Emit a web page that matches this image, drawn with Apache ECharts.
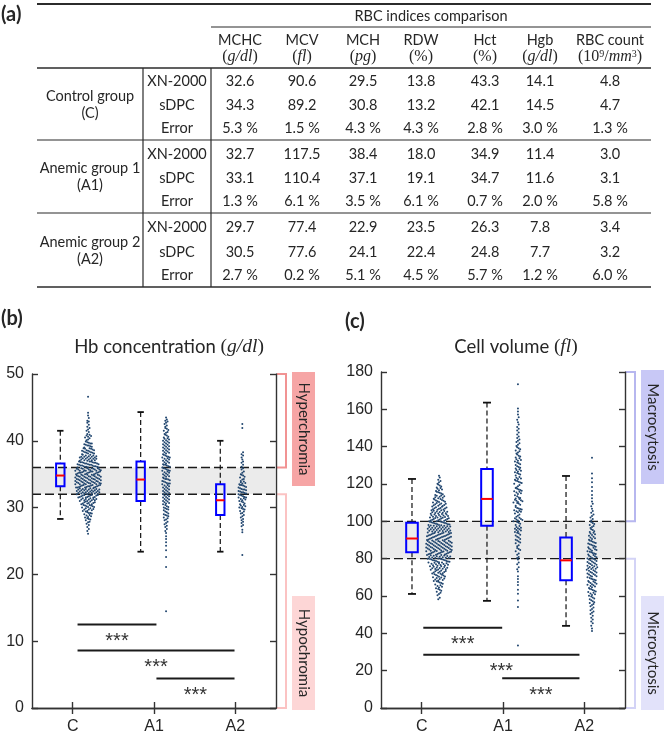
<!DOCTYPE html>
<html>
<head>
<meta charset="utf-8">
<script src="https://cdn.jsdelivr.net/npm/echarts@6.0.0/dist/echarts.min.js"></script>
<style>
  html, body { margin: 0; padding: 0; background: #fff; }
  #main { width: 666px; height: 735px; }
</style>
</head>
<body>
<div id="main"></div>
<script>
// ---------- table (a) ----------
const metricNames = ['MCHC', 'MCV', 'MCH', 'RDW', 'Hct', 'Hgb', 'RBC count']
const metricUnits = [
  '{p|(}{i|g/dl}{p|)}', '{p|(}{i|fl}{p|)}', '{p|(}{i|pg}{p|)}', '{p|(%)}', '{p|(%)}',
  '{p|(}{i|g/dl}{p|)}', '{p|(10}{s|9}{p|/}{i|mm}{s|3}{p|)}'
]
const groupNames = [['Control group', '(C)'], ['Anemic group 1', '(A1)'], ['Anemic group 2', '(A2)']]
const methodNames = ['XN-2000', 'sDPC', 'Error']
const controlValues = [
  [32.6, 90.6, 29.5, 13.8, 43.3, 14.1, 4.8],
  [34.3, 89.2, 30.8, 13.2, 42.1, 14.5, 4.7],
  [5.3, 1.5, 4.3, 4.3, 2.8, 3.0, 1.3]
]
const anemic1Values = [
  [32.7, 117.5, 38.4, 18.0, 34.9, 11.4, 3.0],
  [33.1, 110.4, 37.1, 19.1, 34.7, 11.6, 3.1],
  [1.3, 6.1, 3.5, 6.1, 0.7, 2.0, 5.8]
]
const anemic2Values = [
  [29.7, 77.4, 22.9, 23.5, 26.3, 7.8, 3.4],
  [30.5, 77.6, 24.1, 22.4, 24.8, 7.7, 3.2],
  [2.7, 0.2, 5.1, 4.5, 5.7, 1.2, 6.0]
]

// ---------- charts (b) and (c) ----------
const groupLabels = ['C', 'A1', 'A2']
const groupPos = [1, 2, 3]
// [lower whisker, q1, median, q3, upper whisker]
const hbBoxStats = [[28.3, 33.2, 34.8, 36.6, 41.5], [23.4, 31.0, 34.2, 36.9, 44.3], [23.4, 28.9, 31.1, 33.5, 40.0]]
const mcvBoxStats = [[61.1, 83.4, 90.8, 99.3, 122.7], [57.4, 97.7, 112.0, 128.0, 163.6], [44.0, 68.5, 79.1, 91.3, 124.3]]
const hbNormal = [32, 36]
const mcvNormal = [80, 100]
// [from, to, y]
const hbSig = [[1.06, 2.03, 12.5], [1.06, 2.99, 8.6], [2.03, 2.99, 4.4]]
const mcvSig = [[1.02, 1.99, 43.0], [1.02, 2.94, 28.5], [1.99, 2.94, 15.9]]
const hbZones = [[50, 36], [32, 0]]
const hbZoneNames = ['Hyperchromia', 'Hypochromia']
const mcvZones = [[180, 100], [80, 0]]
const mcvZoneNames = ['Macrocytosis', 'Microcytosis']

const hbC = [46.6, 44.2, 43.0, 43.4, 43.8, 42.1, 42.4, 42.7, 42.9, 41.0, 41.3, 41.5, 41.7, 41.9,
  40.1, 40.2, 40.4, 40.5, 40.6, 40.7, 40.8, 40.9,
  39.0, 39.1, 39.2, 39.3, 39.3, 39.4, 39.5, 39.6, 39.6, 39.7, 39.8, 39.9,
  38.0, 38.1, 38.1, 38.2, 38.2, 38.3, 38.3, 38.4, 38.4, 38.5, 38.5, 38.6, 38.6, 38.7, 38.8, 38.8, 38.9, 38.9,
  37.0, 37.0, 37.1, 37.1, 37.1, 37.2, 37.2, 37.3, 37.3, 37.3, 37.4, 37.4, 37.5, 37.5, 37.5, 37.6, 37.6, 37.6, 37.7, 37.7, 37.8, 37.8, 37.9, 37.9,
  36.0, 36.0, 36.0, 36.1, 36.1, 36.1, 36.2, 36.2, 36.2, 36.3, 36.3, 36.3, 36.4, 36.4, 36.4, 36.5, 36.5, 36.5, 36.6, 36.6, 36.6, 36.7, 36.7, 36.7, 36.8, 36.8, 36.8, 36.9, 36.9, 36.9,
  35.0, 35.0, 35.0, 35.1, 35.1, 35.1, 35.2, 35.2, 35.2, 35.2, 35.3, 35.3, 35.3, 35.4, 35.4, 35.4, 35.4, 35.5, 35.5, 35.5, 35.5, 35.6, 35.6, 35.6, 35.7, 35.7, 35.7, 35.7, 35.8, 35.8, 35.8, 35.9, 35.9, 35.9, 35.9,
  34.0, 34.0, 34.0, 34.1, 34.1, 34.1, 34.1, 34.2, 34.2, 34.2, 34.3, 34.3, 34.3, 34.3, 34.4, 34.4, 34.4, 34.4, 34.5, 34.5, 34.5, 34.6, 34.6, 34.6, 34.6, 34.7, 34.7, 34.7, 34.8, 34.8, 34.8, 34.8, 34.9, 34.9, 34.9, 34.9,
  33.0, 33.0, 33.0, 33.0, 33.1, 33.1, 33.1, 33.2, 33.2, 33.2, 33.2, 33.3, 33.3, 33.3, 33.4, 33.4, 33.4, 33.5, 33.5, 33.5, 33.5, 33.6, 33.6, 33.6, 33.7, 33.7, 33.7, 33.7, 33.8, 33.8, 33.8, 33.8, 33.9, 33.9, 33.9,
  32.0, 32.0, 32.0, 32.1, 32.1, 32.1, 32.2, 32.2, 32.2, 32.3, 32.3, 32.3, 32.3, 32.4, 32.4, 32.4, 32.5, 32.5, 32.5, 32.6, 32.6, 32.6, 32.6, 32.7, 32.7, 32.7, 32.8, 32.8, 32.8, 32.9, 32.9, 32.9,
  31.0, 31.0, 31.1, 31.1, 31.1, 31.2, 31.2, 31.3, 31.3, 31.3, 31.4, 31.4, 31.5, 31.5, 31.5, 31.6, 31.6, 31.6, 31.7, 31.7, 31.8, 31.8, 31.8, 31.9, 31.9, 31.9,
  30.0, 30.1, 30.1, 30.2, 30.2, 30.3, 30.3, 30.4, 30.4, 30.5, 30.5, 30.6, 30.6, 30.7, 30.7, 30.8, 30.8, 30.9, 30.9,
  29.0, 29.1, 29.2, 29.2, 29.3, 29.4, 29.5, 29.5, 29.6, 29.7, 29.7, 29.8, 29.9, 29.9,
  28.1, 28.2, 28.3, 28.4, 28.5, 28.6, 28.7, 28.8, 28.9, 27.1, 27.4, 27.6, 27.8, 27.9, 26.1, 26.5, 26.8]

const hbA1 = [43.0, 43.2, 43.5, 42.1, 42.3, 42.5, 42.7, 42.9, 41.0, 41.2, 41.3, 41.5, 41.6, 41.8, 41.9,
  40.0, 40.1, 40.2, 40.3, 40.4, 40.5, 40.6, 40.8, 40.9,
  39.0, 39.1, 39.2, 39.3, 39.4, 39.5, 39.6, 39.7, 39.8, 39.9,
  38.0, 38.1, 38.2, 38.3, 38.4, 38.5, 38.6, 38.7, 38.8, 38.9,
  37.0, 37.1, 37.2, 37.3, 37.4, 37.5, 37.6, 37.7, 37.8, 37.9, 37.5,
  36.0, 36.1, 36.2, 36.3, 36.4, 36.5, 36.6, 36.7, 36.8, 36.9, 36.4,
  35.0, 35.1, 35.2, 35.3, 35.4, 35.5, 35.6, 35.7, 35.8, 35.9, 35.5,
  34.0, 34.1, 34.2, 34.3, 34.4, 34.5, 34.6, 34.7, 34.8, 34.9, 34.3,
  33.0, 33.1, 33.2, 33.3, 33.4, 33.5, 33.6, 33.7, 33.8, 33.9, 33.6,
  32.0, 32.1, 32.2, 32.3, 32.4, 32.5, 32.6, 32.7, 32.8, 32.9,
  31.0, 31.1, 31.2, 31.3, 31.4, 31.5, 31.6, 31.7, 31.8, 31.9,
  30.0, 30.1, 30.2, 30.4, 30.5, 30.6, 30.7, 30.8, 30.9,
  29.0, 29.1, 29.3, 29.4, 29.6, 29.7, 29.8, 29.9,
  28.1, 28.2, 28.4, 28.5, 28.7, 28.8, 28.9, 27.1, 27.3, 27.5, 27.7, 27.9,
  26.2, 26.5, 26.8, 25.3, 25.7, 24.3, 24.8, 23.6, 22.6, 21.1, 14.5]

const hbA2 = [42.5, 41.9, 38.3, 38.0, 37.2, 37.5, 37.8, 36.1, 36.4, 36.7, 36.9,
  35.0, 35.2, 35.4, 35.7, 35.9, 34.0, 34.2, 34.3, 34.5, 34.6, 34.8, 34.9,
  33.0, 33.1, 33.2, 33.3, 33.4, 33.4, 33.5, 33.6, 33.7, 33.8, 33.9,
  32.0, 32.1, 32.2, 32.3, 32.3, 32.4, 32.5, 32.6, 32.7, 32.7, 32.8, 32.9,
  31.0, 31.1, 31.2, 31.3, 31.4, 31.5, 31.5, 31.6, 31.7, 31.8, 31.9,
  30.0, 30.1, 30.2, 30.3, 30.4, 30.5, 30.6, 30.8, 30.9,
  29.1, 29.2, 29.4, 29.5, 29.7, 29.8, 29.9, 28.1, 28.3, 28.5, 28.7, 28.9,
  27.2, 27.4, 27.7, 27.9, 26.3, 26.7, 22.9]

const mcvC = [124.4, 122.3, 123.5, 120.2, 120.9, 121.6, 118.1, 118.6, 119.2, 119.7,
  116.2, 116.6, 117.0, 117.5, 117.9, 114.1, 114.5, 114.9, 115.3, 115.6, 115.9,
  112.1, 112.3, 112.6, 112.9, 113.2, 113.4, 113.7, 113.9,
  110.1, 110.3, 110.5, 110.8, 111.0, 111.2, 111.4, 111.7, 111.9,
  108.0, 108.2, 108.4, 108.6, 108.8, 109.0, 109.2, 109.4, 109.6, 109.8,
  106.0, 106.2, 106.3, 106.5, 106.7, 106.9, 107.0, 107.2, 107.4, 107.6, 107.8,
  104.0, 104.2, 104.3, 104.5, 104.6, 104.8, 105.0, 105.2, 105.3, 105.5, 105.7, 105.9,
  102.0, 102.1, 102.3, 102.4, 102.6, 102.8, 102.9, 103.1, 103.2, 103.4, 103.6, 103.7, 103.9,
  100.0, 100.1, 100.3, 100.4, 100.6, 100.7, 100.9, 101.0, 101.2, 101.3, 101.5, 101.6, 101.8, 101.9,
  98.0, 98.1, 98.3, 98.4, 98.5, 98.7, 98.8, 99.0, 99.1, 99.2, 99.4, 99.5, 99.7, 99.8, 99.9,
  96.0, 96.1, 96.2, 96.4, 96.5, 96.6, 96.8, 96.9, 97.0, 97.2, 97.3, 97.4, 97.6, 97.7, 97.8, 97.9,
  94.0, 94.1, 94.3, 94.4, 94.5, 94.6, 94.8, 94.9, 95.0, 95.1, 95.3, 95.4, 95.5, 95.7, 95.8, 95.9,
  92.0, 92.1, 92.2, 92.4, 92.5, 92.6, 92.7, 92.9, 93.0, 93.1, 93.2, 93.4, 93.5, 93.6, 93.7, 93.8, 93.9,
  90.0, 90.1, 90.2, 90.3, 90.5, 90.6, 90.7, 90.8, 91.0, 91.1, 91.2, 91.3, 91.5, 91.6, 91.7, 91.8, 91.9,
  88.0, 88.1, 88.2, 88.3, 88.4, 88.5, 88.6, 88.7, 88.8, 89.0, 89.1, 89.2, 89.3, 89.4, 89.5, 89.6, 89.7, 89.9,
  86.0, 86.1, 86.2, 86.3, 86.4, 86.5, 86.6, 86.7, 86.9, 87.0, 87.1, 87.2, 87.3, 87.4, 87.5, 87.6, 87.8, 87.9,
  84.0, 84.1, 84.2, 84.3, 84.4, 84.6, 84.7, 84.8, 84.9, 85.0, 85.1, 85.2, 85.3, 85.5, 85.6, 85.7, 85.8, 85.9,
  82.0, 82.1, 82.2, 82.4, 82.5, 82.6, 82.7, 82.9, 83.0, 83.1, 83.2, 83.4, 83.5, 83.6, 83.7, 83.8, 83.9,
  80.0, 80.1, 80.3, 80.4, 80.5, 80.6, 80.8, 80.9, 81.0, 81.1, 81.3, 81.4, 81.5, 81.7, 81.8, 81.9,
  78.0, 78.1, 78.3, 78.4, 78.5, 78.7, 78.8, 79.0, 79.1, 79.2, 79.4, 79.5, 79.7, 79.8, 79.9,
  76.0, 76.2, 76.3, 76.5, 76.6, 76.8, 77.0, 77.1, 77.3, 77.4, 77.6, 77.8, 77.9,
  74.0, 74.2, 74.3, 74.5, 74.6, 74.8, 75.0, 75.2, 75.3, 75.5, 75.7, 75.9,
  72.0, 72.2, 72.4, 72.6, 72.8, 73.0, 73.2, 73.4, 73.6, 73.8,
  70.1, 70.3, 70.5, 70.8, 71.0, 71.2, 71.4, 71.7, 71.9,
  68.1, 68.3, 68.6, 68.9, 69.1, 69.4, 69.6, 69.9,
  66.2, 66.5, 66.9, 67.2, 67.6, 67.9, 64.2, 64.6, 65.0, 65.4, 65.8,
  62.3, 62.8, 63.3, 63.8, 60.4, 61.1, 61.7, 58.2, 59.0]

const mcvA1 = [173.5, 160.5, 155.8, 157.2, 158.9, 150.6, 151.9, 153.1, 154.4,
  145.4, 146.5, 147.6, 148.7, 149.6, 140.3, 141.0, 141.8, 142.5, 143.2, 143.9, 144.6,
  135.2, 135.8, 136.3, 136.9, 137.5, 138.0, 138.6, 139.1, 139.7,
  130.2, 130.6, 131.1, 131.5, 132.0, 132.4, 132.9, 133.3, 133.8, 134.2, 134.7,
  125.1, 125.5, 125.9, 126.3, 126.7, 127.1, 127.5, 127.9, 128.3, 128.7, 129.1, 129.5,
  120.1, 120.5, 120.8, 121.2, 121.6, 121.9, 122.3, 122.7, 123.0, 123.4, 123.8, 124.5,
  115.1, 115.4, 115.8, 116.1, 116.4, 116.8, 117.1, 117.4, 117.8, 118.1, 118.8, 119.4,
  110.1, 110.4, 110.7, 111.0, 111.3, 111.6, 111.9, 112.2, 112.5, 112.8, 113.4, 114.0, 114.7,
  105.1, 105.4, 105.7, 106.0, 106.3, 106.6, 106.9, 107.2, 107.7, 108.3, 108.9, 109.5, 109.8,
  100.1, 100.4, 100.7, 101.0, 101.3, 101.6, 101.9, 102.4, 103.0, 103.6, 104.2, 104.8,
  95.1, 95.4, 95.7, 96.0, 96.3, 96.6, 96.9, 97.5, 98.1, 98.7, 99.3, 99.7,
  90.2, 90.6, 91.3, 91.7, 92.4, 92.8, 93.6, 93.9, 94.3, 94.7,
  85.2, 85.7, 86.7, 87.2, 88.2, 88.7, 89.2, 89.7,
  80.3, 80.9, 82.1, 82.8, 84.0, 84.6, 75.4, 77.0, 77.9, 79.5,
  70.6, 73.1, 74.3, 65.9, 67.5, 69.1, 61.2, 63.4, 57.6, 54.1, 33.5]

const mcvA2 = [134.0, 125.6, 123.1, 121.0, 118.4, 116.2, 114.1, 112.3, 110.6, 109.4, 108.1, 106.8, 105.5,
  100.4, 101.3, 102.1, 102.9, 103.7, 104.6, 95.3, 95.8, 96.4, 96.9, 97.5, 98.0, 98.6, 99.1, 99.7,
  90.2, 90.6, 91.0, 91.4, 91.8, 92.3, 92.7, 93.1, 93.5, 93.9, 94.3, 94.7,
  85.1, 85.4, 85.8, 86.1, 86.4, 86.8, 87.1, 87.4, 87.7, 88.1, 88.4, 88.7, 89.1, 89.4, 89.7,
  80.1, 80.4, 80.7, 81.0, 81.3, 81.6, 81.9, 82.2, 82.5, 82.8, 83.1, 83.4, 83.7, 84.0, 84.3, 84.6, 84.9,
  75.1, 75.4, 75.6, 75.9, 76.2, 76.5, 76.8, 77.1, 77.4, 77.6, 77.9, 78.2, 78.5, 78.8, 79.1, 79.4, 79.6, 79.9,
  70.1, 70.4, 70.6, 70.9, 71.2, 71.5, 71.8, 72.1, 72.4, 72.6, 72.9, 73.2, 73.5, 73.8, 74.1, 74.4, 74.6, 74.9,
  65.1, 65.4, 65.7, 66.0, 66.3, 66.6, 66.9, 67.2, 67.5, 67.8, 68.1, 68.4, 68.7, 69.0, 69.3, 69.7,
  60.2, 60.6, 60.9, 61.3, 61.7, 62.1, 62.4, 62.8, 63.2, 63.6, 63.9, 64.3, 64.7,
  55.2, 55.7, 56.2, 56.7, 57.2, 57.7, 58.2, 58.7, 59.2, 59.7,
  50.3, 51.0, 51.7, 52.4, 53.1, 53.8, 54.5, 45.4, 46.4, 47.4, 48.4, 49.4, 41.2, 42.6, 44.0]

// ---------- layout ----------
const hbGrid = { left: 32, top: 374, width: 244, height: 337 }
const mcvGrid = { left: 381, top: 372, width: 244, height: 339 }
const hbBoxX = [0.848, 1.836, 2.815]
const hbSwarmX = [1.189, 2.148, 3.086]
const mcvBoxX = [0.881, 1.803, 2.775]
const mcvSwarmX = [1.213, 2.184, 3.094]
const DOT_GAP = 1.5 // px between neighbours in a bin
const INK = '#262626'

const gcd = (a, b) => (b ? gcd(b, a % b) : a)

// spread points of one group sideways, bin by bin (plotSpread style)
function spread(values, center, binSize, gapUnits) {
  const bins = {}
  values.forEach(v => {
    const k = Math.floor(v / binSize + 1e-9)
    ;(bins[k] = bins[k] || []).push(v)
  })
  const out = []
  Object.keys(bins).forEach(k => {
    const vs = bins[k].slice().sort((a, b) => a - b)
    const n = vs.length
    let step = Math.max(1, Math.round(n * 0.38))
    while (gcd(step, n) !== 1) step++
    vs.forEach((v, i) => {
      const slot = (i * step) % n
      out.push([center + (slot - (n - 1) / 2) * gapUnits, v])
    })
  })
  return out
}

const hbGap = DOT_GAP * 3 / hbGrid.width
const mcvGap = DOT_GAP * 3 / mcvGrid.width
const hbDots = [].concat(spread(hbC, hbSwarmX[0], 0.5, hbGap), spread(hbA1, hbSwarmX[1], 0.5, hbGap), spread(hbA2, hbSwarmX[2], 0.5, hbGap))
const mcvDots = [].concat(spread(mcvC, mcvSwarmX[0], 2, mcvGap), spread(mcvA1, mcvSwarmX[1], 2, mcvGap), spread(mcvA2, mcvSwarmX[2], 2, mcvGap))

// ---------- renderers ----------
const bandRenderer = range => (params, api) => {
  const a = api.coord([0.5, range[1]])
  const b = api.coord([3.5, range[0]])
  const dash = { stroke: '#1a1a1a', lineWidth: 1.3, lineDash: [9, 4] }
  return {
    type: 'group',
    children: [
      { type: 'rect', shape: { x: a[0] + 1, y: a[1], width: b[0] - a[0] - 2, height: b[1] - a[1] }, style: { fill: '#ebebeb' } },
      { type: 'line', shape: { x1: a[0], y1: a[1], x2: b[0], y2: a[1] }, style: dash },
      { type: 'line', shape: { x1: a[0], y1: b[1], x2: b[0], y2: b[1] }, style: dash }
    ]
  }
}

const boxRenderer = (stats, xs, half, cap) => (params, api) => {
  const s = stats[params.dataIndex]
  const x = xs[params.dataIndex]
  const y = s.map(v => api.coord([x, v])[1])
  const cx = api.coord([x, s[2]])[0]
  const wh = { stroke: '#111', lineWidth: 1.2, lineDash: [5, 3] }
  const cp = { stroke: '#111', lineWidth: 1.8 }
  return {
    type: 'group',
    children: [
      { type: 'line', shape: { x1: cx, y1: y[4], x2: cx, y2: y[3] }, style: wh },
      { type: 'line', shape: { x1: cx, y1: y[1], x2: cx, y2: y[0] }, style: wh },
      { type: 'line', shape: { x1: cx - cap, y1: y[4], x2: cx + cap, y2: y[4] }, style: cp },
      { type: 'line', shape: { x1: cx - cap, y1: y[0], x2: cx + cap, y2: y[0] }, style: cp },
      { type: 'rect', shape: { x: cx - half, y: y[3], width: half * 2, height: y[1] - y[3] }, style: { fill: 'none', stroke: '#0000ff', lineWidth: 2 } },
      { type: 'line', shape: { x1: cx - half, y1: y[2], x2: cx + half, y2: y[2] }, style: { stroke: '#ff0000', lineWidth: 2 } }
    ]
  }
}

const sigRenderer = bars => (params, api) => {
  const b = bars[params.dataIndex]
  const p1 = api.coord([b[0], b[2]])
  const p2 = api.coord([b[1], b[2]])
  return {
    type: 'group',
    children: [
      { type: 'line', shape: { x1: p1[0], y1: p1[1], x2: p2[0], y2: p2[1] }, style: { stroke: '#1a1a1a', lineWidth: 2 } },
      { type: 'text', x: (p1[0] + p2[0]) / 2, y: p1[1] + 17,
        style: { text: '***', fill: '#333', fontFamily: 'Liberation Sans', fontSize: 20, align: 'center', verticalAlign: 'middle', textAlign: 'center', textVerticalAlign: 'middle' } }
    ]
  }
}

const zoneRenderer = (zones, names, colors) => (params, api) => {
  const i = params.dataIndex
  const z = zones[i]
  const t = api.coord([3.5, z[0]])
  const b = api.coord([3.5, z[1]])
  const x0 = t[0] + 1
  const x1 = t[0] + 10
  const ry = i === 0 ? t[1] - 2 : b[1] - 112
  return {
    type: 'group',
    children: [
      { type: 'polyline', shape: { points: [[x0, t[1]], [x1, t[1]], [x1, b[1]], [x0, b[1]]] }, style: { stroke: colors[i][0], lineWidth: 2, fill: 'none' } },
      { type: 'rect', shape: { x: x1 + 6, y: ry, width: 23, height: 114 }, style: { fill: colors[i][1] } },
      { type: 'text', x: x1 + 17.5, y: ry + 57, rotation: -Math.PI / 2,
        style: { text: names[i], fill: INK, fontFamily: 'Lato', fontSize: 15, align: 'center', verticalAlign: 'middle', textAlign: 'center', textVerticalAlign: 'middle' } }
    ]
  }
}

// ---------- graphic: table, titles, panel letters ----------
const graphic = []
const hline = (x1, y1, x2, y2, w) => graphic.push({ type: 'line', silent: true, shape: { x1, y1, x2, y2 }, style: { stroke: '#2b2b2b', lineWidth: w } })
const label = (x, y, text, extra) => graphic.push({
  type: 'text', x, y, silent: true,
  style: Object.assign({ text, fill: INK, fontFamily: 'Lato', fontSize: 14.5, align: 'center', verticalAlign: 'middle', textAlign: 'center', textVerticalAlign: 'middle' }, extra || {})
})
const unitRich = {
  p: { fontFamily: 'Liberation Serif', fontSize: 16, fill: INK },
  i: { fontFamily: 'Liberation Serif', fontStyle: 'italic', fontSize: 16, fill: INK },
  s: { fontFamily: 'Liberation Serif', fontSize: 10, fill: INK, verticalAlign: 'top' }
}

const T = { left: 37, right: 651, split1: 143, split2: 211, blocks: [68, 140, 213, 287] }
const colX = [240, 302, 363, 421, 485, 540, 610]
hline(T.left, 4, T.right, 4, 1.8)
hline(T.split2, 27, T.right, 27, 1.2)
T.blocks.forEach((y, i) => hline(T.left, y, T.right, y, i === 0 || i === 3 ? 1.6 : 1.2))
hline(T.split1, T.blocks[0], T.split1, T.blocks[3], 1.2)
hline(T.split2, T.blocks[0], T.split2, T.blocks[3], 1.2)
label((T.split2 + T.right) / 2, 16, 'RBC indices comparison')
metricNames.forEach((m, j) => {
  label(colX[j], 40, m)
  label(colX[j], 57, metricUnits[j], { rich: unitRich })
})
const allValues = [controlValues, anemic1Values, anemic2Values]
allValues.forEach((rows, g) => {
  const top = T.blocks[g]
  const h = T.blocks[g + 1] - top
  label(90, top + h / 2 - 8, groupNames[g][0])
  label(90, top + h / 2 + 9, groupNames[g][1])
  const ry = [0.19, 0.525, 0.84].map(f => top + h * f)
  rows.forEach((row, r) => {
    label(177, ry[r], methodNames[r])
    row.forEach((v, j) => label(colX[j], ry[r], v.toFixed(1) + (r === 2 ? ' %' : '')))
  })
})

const panelFont = { fontFamily: 'Lato', fontWeight: 'bold', fontSize: 20, align: 'left', textAlign: 'left' }
label(1, 15, '(a)', panelFont)
label(1, 319, '(b)', panelFont)
label(345, 322, '(c)', panelFont)

const titleRich = {
  a: { fontFamily: 'Lato', fontSize: 18.5, fill: INK },
  p: { fontFamily: 'Liberation Serif', fontSize: 19.5, fill: INK },
  i: { fontFamily: 'Liberation Serif', fontStyle: 'italic', fontSize: 19.5, fill: INK }
}
label(169, 347, '{a|Hb concentration }{p|(}{i|g/dl}{p|)}', { rich: titleRich })
label(516, 347, '{a|Cell volume }{p|(}{i|fl}{p|)}', { rich: titleRich })

// ---------- axes ----------
const axisLine = { show: true, lineStyle: { color: '#333', width: 1.4 } }
const xAxisPair = grid => [
  {
    gridIndex: grid, type: 'value', min: 0.5, max: 3.5, position: 'bottom', z: 10,
    axisLine, splitLine: { show: false },
    axisTick: { inside: true, length: 6, customValues: groupPos, lineStyle: { color: '#333', width: 1.4 } },
    axisLabel: { customValues: groupPos, formatter: v => groupLabels[Math.round(v) - 1], color: INK, fontFamily: 'Liberation Sans', fontSize: 16, margin: 11 }
  },
  {
    gridIndex: grid, type: 'value', min: 0.5, max: 3.5, position: 'top', z: 10,
    axisLine, splitLine: { show: false },
    axisTick: { inside: true, length: 6, customValues: groupPos, lineStyle: { color: '#333', width: 1.4 } },
    axisLabel: { show: false }
  }
]
const yAxisPair = (grid, max, interval) => [
  {
    gridIndex: grid, type: 'value', min: 0, max, interval, position: 'left', z: 10,
    axisLine, splitLine: { show: false },
    axisTick: { inside: true, length: 6, lineStyle: { color: '#333', width: 1.4 } },
    axisLabel: { color: INK, fontFamily: 'Liberation Sans', fontSize: 16, margin: 8 }
  },
  {
    gridIndex: grid, type: 'value', min: 0, max, interval, position: 'right', z: 10,
    axisLine, splitLine: { show: false },
    axisTick: { inside: true, length: 6, lineStyle: { color: '#333', width: 1.4 } },
    axisLabel: { show: false }
  }
]

const seriesFor = (xi, yi, normal, stats, boxX, half, cap, dots, sig, zones, zoneNames, zoneColors) => [
  { type: 'custom', xAxisIndex: xi, yAxisIndex: yi, z: 1, silent: true, clip: false, data: [normal], renderItem: bandRenderer(normal) },
  { type: 'scatter', xAxisIndex: xi, yAxisIndex: yi, z: 3, silent: true, symbol: 'circle', symbolSize: 2,
    itemStyle: { color: '#21466f', opacity: 1 }, data: dots },
  { type: 'custom', xAxisIndex: xi, yAxisIndex: yi, z: 4, silent: true, clip: false, data: stats, renderItem: boxRenderer(stats, boxX, half, cap) },
  { type: 'custom', xAxisIndex: xi, yAxisIndex: yi, z: 4, silent: true, clip: false, data: sig, renderItem: sigRenderer(sig) },
  { type: 'custom', xAxisIndex: xi, yAxisIndex: yi, z: 4, silent: true, clip: false, data: zones, renderItem: zoneRenderer(zones, zoneNames, zoneColors) }
]

const chart = echarts.init(document.getElementById('main'), null, { renderer: 'canvas' })
chart.setOption({
  animation: false,
  backgroundColor: '#ffffff',
  grid: [
    Object.assign({ containLabel: false }, hbGrid),
    Object.assign({ containLabel: false }, mcvGrid)
  ],
  xAxis: [].concat(xAxisPair(0), xAxisPair(1)),
  yAxis: [].concat(yAxisPair(0, 50, 10), yAxisPair(1, 180, 20)),
  graphic,
  series: [].concat(
    seriesFor(0, 0, hbNormal, hbBoxStats, hbBoxX, 4.2, 3.2, hbDots, hbSig, hbZones, hbZoneNames,
      [['#f19393', '#f6a5a5'], ['#fbc3c3', '#fdd6d6']]),
    seriesFor(2, 2, mcvNormal, mcvBoxStats, mcvBoxX, 5.8, 4, mcvDots, mcvSig, mcvZones, mcvZoneNames,
      [['#b7b7ef', '#c8c8f6'], ['#d3d3f6', '#e2e2fa']])
  )
})
</script>
</body>
</html>
